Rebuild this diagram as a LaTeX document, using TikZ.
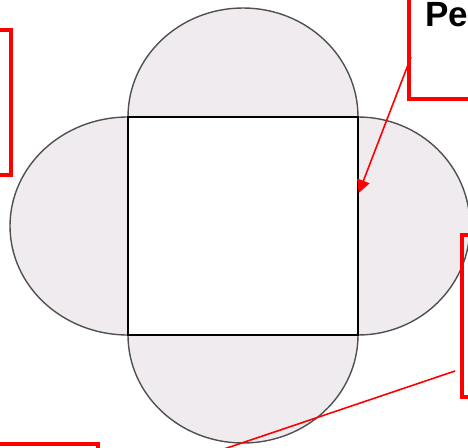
\documentclass[tikz,border=0pt]{standalone}
\usepackage{fontspec}
\setmainfont{Liberation Sans}
\usetikzlibrary{arrows.meta, positioning}

\definecolor{bumpfill}{RGB}{239,235,239}
\definecolor{bumpline}{RGB}{80,80,80}
\definecolor{callred}{RGB}{255,0,0}

\tikzset{
  bump/.style={fill=bumpfill, draw=bumpline, line width=1.4pt},
  redbox/.style={draw=callred, line width=4pt, fill=none, inner sep=0pt},
  callout/.style={draw=callred, line width=1.6pt},
}

\begin{document}
\begin{tikzpicture}[x=1pt, y=-1pt]
  \useasboundingbox (0,0) rectangle (468,447);
  \clip (0,0) rectangle (468,447);

  % ---- semi-circles round the square ----
  \draw[bump] (243,117) ellipse [x radius=115, y radius=109];
  \draw[bump] (243,335) ellipse [x radius=115, y radius=108];
  \draw[bump] (128,226) ellipse [x radius=118, y radius=109];
  \draw[bump] (358,226) ellipse [x radius=112, y radius=109];

  % ---- square ----
  \node[draw=black, fill=white, line width=1.4pt, inner sep=0pt,
        minimum width=230pt, minimum height=218pt] (sq) at (243,226) {};

  % ---- red boxes (cut by the border) ----
  \draw[redbox] (-40,30) rectangle (11,175);
  \draw[redbox] (409,-40) rectangle (520,99);
  \draw[redbox] (462,235) rectangle (520,397);
  \draw[redbox] (-40,444) rectangle (98,500);
  \node[anchor=base west, inner sep=0pt, font=\bfseries\fontsize{35}{40}\selectfont]
    (pe) at (425,27) {Pe};

  % ---- connectors ----
  \coordinate (trfoot) at (411,57);
  \coordinate (rfoot) at (455,371);
  \coordinate (tip) at (sq.east |- 0,193);
  \coordinate (bend) at (224,449);
  \draw[callout, -{Triangle[length=13pt, width=13pt]}] (trfoot) -- (tip);
  \draw[callout] (rfoot) -- (bend);
\end{tikzpicture}
\end{document}
